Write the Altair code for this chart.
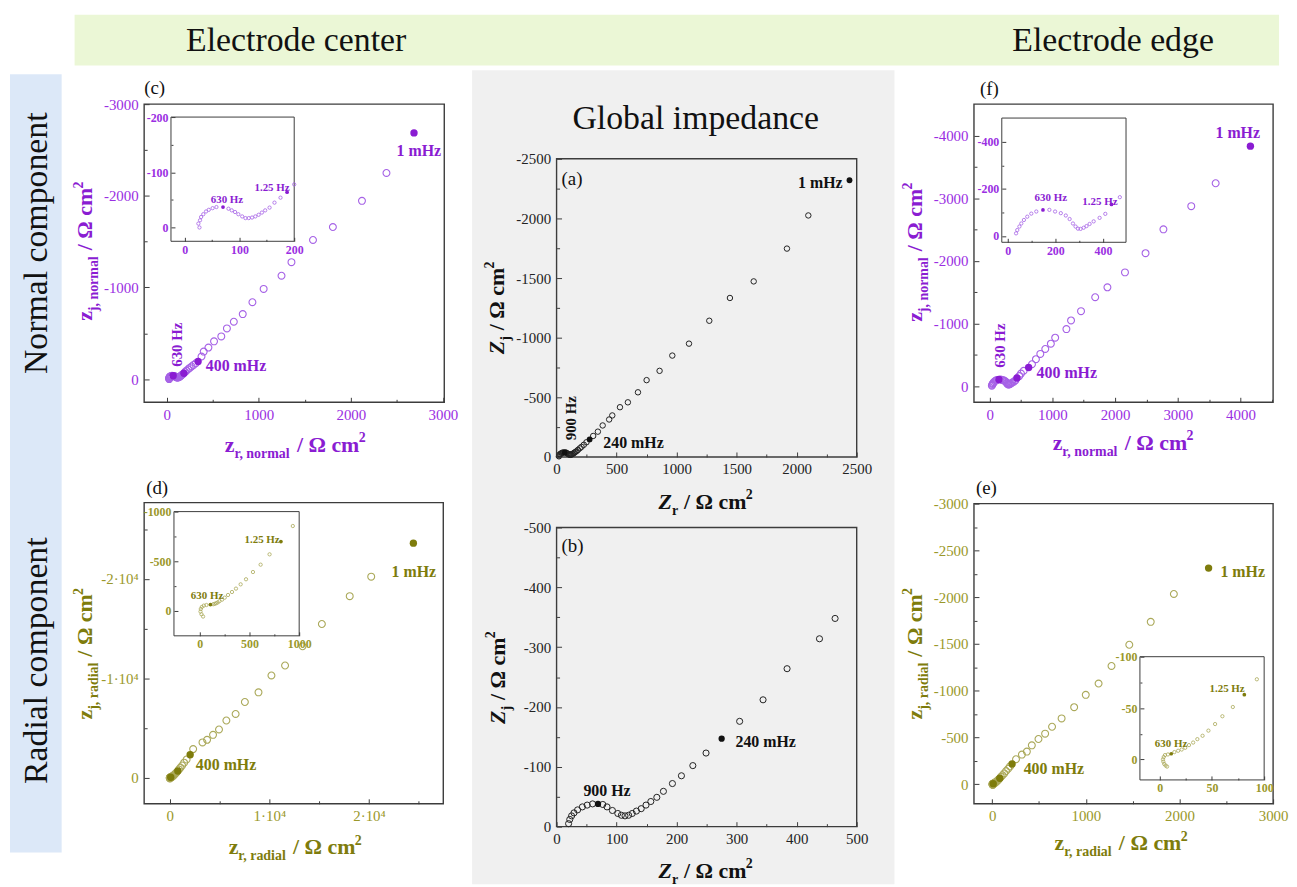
import altair as alt
import pandas as pd

# ---------------- data ----------------
# Global impedance (panels a, b)
g_zr = [20, 22, 25, 29, 35, 43, 51, 60, 77, 84, 93, 102, 108, 114, 120, 126, 133, 141, 149, 157, 167, 178, 193, 208,
        227, 249, 305, 344, 384, 438, 464, 528, 594, 678, 750, 858, 964, 1103, 1272, 1444, 1642, 1919, 2097]
g_zj = [-5, -12, -18, -23, -28, -33, -36, -38, -37, -33, -27, -22, -19, -18, -19, -22, -26, -30, -36, -42, -49, -59,
        -72, -85, -102, -123, -176, -212, -264, -314, -348, -417, -458, -542, -644, -722, -850, -950, -1142, -1333,
        -1472, -1747, -2025]
g_sp_zr = [69, 275, 2440]
g_sp_zj = [-38, -147, -2320]

# Electrode center, normal component (panel c)
c_zr = [27, 25, 28, 30, 34, 39, 44, 51, 58, 80, 86, 92, 98, 105, 111, 117, 123, 129, 135, 141, 147, 155, 164, 175, 200,
        215, 232, 250, 270, 292, 316, 378, 402, 453, 514, 593, 654, 729, 826, 931, 1053, 1247, 1355, 1589, 1805, 2121,
        2387]
c_zj = [0, -7, -13, -19, -24, -29, -32, -35, -37, -34, -31, -28, -24, -20, -17, -17, -18, -20, -23, -27, -31, -36, -45,
        -54, -78, -92, -107, -122, -138, -155, -173, -246, -300, -344, -412, -466, -553, -626, -709, -839, -984, -1128,
        -1276, -1518, -1659, -1945, -2249]
c_sp_zr = [70, 187, 341, 2686]
c_sp_zj = [-37, -64, -192, -2686]

# Electrode center, radial component (panel d)
d_zr = [33, 17, 7, 10, 20, 40, 67, 135, 150, 165, 180, 197, 224, 251, 284, 324, 364, 411, 465, 535, 612, 702, 936,
        1080, 1250, 1450, 1700, 2355, 3293, 3752, 4351, 4950, 5689, 6617, 7545, 8912, 10210, 11577, 13333, 15270,
        18064, 20220]
d_zj = [56, 33, 6, -20, -40, -54, -60, -68, -72, -78, -86, -98, -114, -134, -161, -191, -225, -268, -319, -392, -466,
        -570, -855, -1030, -1250, -1530, -1850, -2900, -3570, -3830, -4330, -4870, -5770, -6430, -7630, -8600, -10300,
        -11300, -13230, -15470, -18270, -20230]
d_sp_zr = [107, 816, 2056, 24450]
d_sp_zj = [-64, -698, -2330, -23600]

# Electrode edge, normal component (panel f)
f_zr = [35, 40, 49, 57, 68, 82, 99, 120, 175, 199, 223, 244, 260, 274, 285, 295, 306, 319, 331, 344, 361, 386, 410,
        471, 500, 543, 675, 738, 808, 887, 976, 1045, 1224, 1298, 1457, 1683, 1878, 2158, 2486, 2771, 3215, 3604]
f_zj = [-11, -25, -40, -53, -68, -82, -95, -104, -111, -104, -97, -87, -72, -53, -40, -31, -30, -35, -42, -51, -62,
        -77, -94, -165, -205, -249, -354, -434, -518, -597, -681, -777, -914, -1052, -1200, -1422, -1580, -1818, -2124,
        -2504, -2874, -3239]
f_sp_zr = [148, 436, 622, 4158]
f_sp_zj = [-111, -134, -301, -3830]

# Electrode edge, radial component (panel e)
e_zr = [7, 5.6, 4.3, 3.4, 3.1, 3.8, 5, 7.8, 14, 17.6, 21, 24.4, 28, 32, 36, 41, 46.6, 53, 60, 70, 93, 110, 128, 148,
        170, 190, 254, 317, 370, 423, 494, 565, 639, 741, 875, 999, 1136, 1274, 1464, 1693, 1940]
e_zj = [7, 6, 4.5, 2.2, 0, -2.3, -4.2, -4.8, -7.1, -8.4, -9.6, -11.3, -13.9, -16.4, -19.7, -23, -28, -34.4, -42, -51,
        -78, -95, -115, -140, -165, -190, -266, -316, -348, -415, -483, -540, -614, -703, -823, -955, -1076, -1264,
        -1491, -1736, -2034]
e_sp_zr = [11, 81, 212, 2311]
e_sp_zj = [-5.5, -63, -216, -2311]

# ---------------- layout / style ----------------
W, H = 1289, 879
OFF = 8
SERIF = "Liberation Serif"

PURPLE_TXT = "#9A2EE2"
PURPLE_PT = "#A662E6"
PURPLE_FILL = "#8A1CD2"
OLIVE_TXT = "#9A982A"
OLIVE_PT = "#ABA95A"
OLIVE_FILL = "#7E7C0C"
BLACK = "#111111"
FRAME = "#3c3c3c"

STD = "datum.value < 0 ? '-' + (-datum.value) : '' + datum.value"
SCI = "datum.value == 0 ? '0' : (datum.value < 0 ? '-' : '') + (abs(datum.value) / 10000) + '\u00b710\u2074'"


def txt(x, y, s, size, color, weight="normal", style="normal", angle=0, align="left", baseline="middle"):
    return alt.Chart(pd.DataFrame({"t": [s]})).mark_text(
        font=SERIF, fontSize=size, fontWeight=weight, fontStyle=style, angle=angle,
        align=align, baseline=baseline, color=color
    ).encode(x=alt.value(x - OFF), y=alt.value(y - OFF), text="t:N")


def bg(x0, y0, x1, y1, color):
    return alt.Chart(pd.DataFrame({"a": [0]})).mark_rect(color=color).encode(
        x=alt.value(x0 - OFF), x2=alt.value(x1 - OFF), y=alt.value(y0 - OFF), y2=alt.value(y1 - OFF))


TB = {' ': 250, '/': 278, ',': 250, 'z': 444, 'r': 444, 'j': 333, 'n': 556, 'o': 500, 'm': 833, 'a': 500,
      'l': 278, 'd': 556, 'i': 278, 'c': 444, 'Z': 667, '2': 500, '\u03a9': 770}


def twidth(s, size, italic=False):
    w = 0
    for ch in s:
        if italic and ch == 'Z':
            w += 611
        else:
            w += TB.get(ch, 500)
    return w * size / 1000.0


def title(cx, cy, pieces, color, rotated=False):
    # pieces: (text, size, shift, italic); an entry with empty text is a gap of `size` px
    total = 0
    for t, s, sh, it in pieces:
        total += twidth(t, s, it) if t else s
    u = -total / 2.0
    out = []
    for t, s, sh, it in pieces:
        if not t:
            u += s
            continue
        if rotated:
            out.append(txt(cx + sh, cy - u, t, s, color, weight="bold", style="italic" if it else "normal",
                           angle=270, align="left", baseline="alphabetic"))
        else:
            out.append(txt(cx + u, cy + sh, t, s, color, weight="bold", style="italic" if it else "normal",
                           align="left", baseline="alphabetic"))
        u += twidth(t, s, it)
    return out


def side_title(sub, main="z", italic=False):
    return [(main, 22, 0, italic), (sub, 14, 6, False), ("", 6, 0, False), ("/ \u03a9 cm", 22, 0, False),
            ("2", 14, -10, False)]


def make_panel(zr, zj, szr, szj, frame, xdom, ydom, xmaj, xmin, ymaj, ymin, pt_color, fill_color, lab_color,
               psize, pstroke, fsize, lsize, lweight, xexpr=STD, yexpr=STD, inset=False, tmaj=5, tmin=3,
               xpad=5, ypad=6, frame_w=1.4):
    L, T, R, B = [v - OFF for v in frame]

    def xs():
        return alt.Scale(domain=xdom, range=[L, R], nice=False, zero=False)

    def ys():
        return alt.Scale(domain=ydom, range=[B, T], nice=False, zero=False)

    lox, hix = min(xdom), max(xdom)
    loy, hiy = min(ydom), max(ydom)
    df = pd.DataFrame({"zr": zr, "zj": zj})
    df = df[(df.zr >= lox) & (df.zr <= hix) & (df.zj >= loy) & (df.zj <= hiy)]
    sdf = pd.DataFrame({"zr": szr, "zj": szj})
    sdf = sdf[(sdf.zr >= lox) & (sdf.zr <= hix) & (sdf.zj >= loy) & (sdf.zj <= hiy)]
    fr = pd.DataFrame({"x0": [xdom[0]], "x1": [xdom[1]], "y0": [ydom[0]], "y1": [ydom[1]]})

    def tax_x(vals, size):
        return alt.Axis(orient="top", offset=-B, values=vals, labels=False, domain=False, grid=False, ticks=True,
                        tickSize=size, tickColor=FRAME, tickWidth=1, title=None, zindex=1)

    def tax_y(vals, size):
        return alt.Axis(orient="right", offset=L - W, values=vals, labels=False, domain=False, grid=False,
                        ticks=True, tickSize=size, tickColor=FRAME, tickWidth=1, title=None, zindex=1)

    frame_layer = alt.Chart(fr).mark_rect(
        fill="white", fillOpacity=1 if inset else 0, stroke=FRAME, strokeWidth=frame_w
    ).encode(
        x=alt.X("x0:Q", scale=xs(), axis=tax_x(xmaj, tmaj)),
        x2="x1:Q",
        y=alt.Y("y0:Q", scale=ys(), axis=tax_y(ymaj, tmaj)),
        y2="y1:Q",
    )
    common = dict(labels=True, ticks=False, tickSize=0, domain=False, grid=False, title=None, labelFont=SERIF,
                  labelFontSize=lsize, labelFontWeight=lweight, labelColor=lab_color, labelFlush=False,
                  labelOverlap=False, labelBound=False, zindex=1)
    pts = alt.Chart(df).mark_point(
        shape="circle", filled=False, size=psize, strokeWidth=pstroke, color=pt_color, opacity=1
    ).encode(
        x=alt.X("zr:Q", scale=xs(), axis=alt.Axis(orient="bottom", offset=B - H, values=xmaj, labelExpr=xexpr,
                                                     labelPadding=xpad, **common)),
        y=alt.Y("zj:Q", scale=ys(), axis=alt.Axis(orient="left", offset=-L, values=ymaj, labelExpr=yexpr,
                                                     labelPadding=ypad, **common)),
    )
    sp = alt.Chart(sdf).mark_circle(size=fsize, color=fill_color, opacity=1).encode(
        x=alt.X("zr:Q", scale=xs(), axis=tax_x(xmin, tmin)),
        y=alt.Y("zj:Q", scale=ys(), axis=tax_y(ymin, tmin)),
    )
    return [frame_layer, pts, sp]


layers = []

# backgrounds
layers.append(bg(75, 12, 1287, 63, "#EBF7D6"))
layers.append(bg(10, 72, 62, 855, "#DCE8F8"))
layers.append(bg(475, 68, 900, 887, "#F0F0F0"))

layers.append(txt(298, 39, "Electrode center", 34, BLACK, align="center"))
layers.append(txt(1120, 39, "Electrode edge", 34, BLACK, align="center"))
layers.append(txt(700, 117, "Global impedance", 34, BLACK, align="center"))
layers.append(txt(37, 242, "Normal component", 34, BLACK, angle=270, align="center"))
layers.append(txt(37, 662, "Radial component", 34, BLACK, angle=270, align="center"))

# ---- panel (c) ----
layers += make_panel(c_zr, c_zj, c_sp_zr, c_sp_zj, (145, 102, 447, 402), [-245, 3015], [253, -3000],
                     [0, 1000, 2000, 3000], [500, 1500, 2500], [0, -1000, -2000, -3000], [-500, -1500, -2500],
                     PURPLE_PT, PURPLE_FILL, PURPLE_TXT, 48, 1.1, 55, 15, "normal")
layers += make_panel(c_zr, c_zj, c_sp_zr, c_sp_zj, (172, 115, 296, 240), [-25, 200], [25, -200],
                     [0, 100, 200], [50, 150], [0, -100, -200], [-50, -150],
                     PURPLE_PT, PURPLE_FILL, PURPLE_TXT, 11, 0.8, 14, 12, "bold", inset=True, tmaj=4, tmin=2,
                     xpad=3, ypad=3, frame_w=1)
layers.append(txt(145, 86, "(c)", 19, BLACK))
layers.append(txt(399, 149, "1 mHz", 16, PURPLE_FILL, weight="bold"))
layers.append(txt(207, 366, "400 mHz", 16, PURPLE_FILL, weight="bold"))
layers.append(txt(178, 344, "630 Hz", 15, PURPLE_FILL, weight="bold", angle=270, align="center"))
layers.append(txt(212, 198, "630 Hz", 11, PURPLE_FILL, weight="bold"))
layers.append(txt(256, 186, "1.25 Hz", 11, PURPLE_FILL, weight="bold"))
layers += title(297, 452, side_title("r, normal"), PURPLE_FILL)
layers += title(93, 250, side_title("j, normal"), PURPLE_FILL, rotated=True)

# ---- panel (d) ----
layers += make_panel(d_zr, d_zj, d_sp_zr, d_sp_zj, (145, 503, 446, 806), [-2560, 27450], [2600, -27670],
                     [0, 10000, 20000], [5000, 15000, 25000], [0, -10000, -20000], [-5000, -15000, -25000],
                     OLIVE_PT, OLIVE_FILL, OLIVE_TXT, 48, 1.1, 55, 15, "normal", xexpr=SCI, yexpr=SCI)
layers += make_panel(d_zr, d_zj, d_sp_zr, d_sp_zj, (175, 512, 301, 637), [-260, 1000], [250, -1000],
                     [0, 500, 1000], [250, 750], [0, -500, -1000], [-250, -750],
                     OLIVE_PT, OLIVE_FILL, OLIVE_TXT, 11, 0.8, 14, 12, "bold", inset=True, tmaj=4, tmin=2,
                     xpad=3, ypad=3, frame_w=1)
layers.append(txt(147, 488, "(d)", 19, BLACK))
layers.append(txt(394, 573, "1 mHz", 16, OLIVE_FILL, weight="bold"))
layers.append(txt(197, 767, "400 mHz", 16, OLIVE_FILL, weight="bold"))
layers.append(txt(192, 597, "630 Hz", 11, OLIVE_FILL, weight="bold"))
layers.append(txt(246, 541, "1.25 Hz", 11, OLIVE_FILL, weight="bold"))
layers += title(297, 857, side_title("r, radial"), OLIVE_FILL)
layers += title(93, 655, side_title("j, radial"), OLIVE_FILL, rotated=True)

# ---- panel (a) ----
layers += make_panel(g_zr, g_zj, g_sp_zr, g_sp_zj, (560, 157, 862, 457), [0, 2500], [0, -2500],
                     [0, 500, 1000, 1500, 2000, 2500], [250, 750, 1250, 1750, 2250],
                     [0, -500, -1000, -1500, -2000, -2500], [-250, -750, -1250, -1750, -2250],
                     "#222222", BLACK, "#222222", 30, 1, 34, 15, "normal")
layers.append(txt(565, 177, "(a)", 19, BLACK))
layers.append(txt(803, 181, "1 mHz", 16, BLACK, weight="bold"))
layers.append(txt(607, 443, "240 mHz", 16, BLACK, weight="bold"))
layers.append(txt(575, 418, "900 Hz", 15, BLACK, weight="bold", angle=270, align="center"))
layers += title(710, 509, side_title("r", "Z", True), BLACK)
layers += title(507, 307, side_title("j", "Z", True), BLACK, rotated=True)

# ---- panel (b) ----
layers += make_panel(g_zr, g_zj, g_sp_zr, g_sp_zj, (560, 528, 862, 829), [0, 500], [0, -500],
                     [0, 100, 200, 300, 400, 500], [50, 150, 250, 350, 450],
                     [0, -100, -200, -300, -400, -500], [-50, -150, -250, -350, -450],
                     "#222222", BLACK, "#222222", 38, 1, 40, 15, "normal")
layers.append(txt(565, 547, "(b)", 19, BLACK))
layers.append(txt(587, 793, "900 Hz", 16, BLACK, weight="bold"))
layers.append(txt(740, 744, "240 mHz", 16, BLACK, weight="bold"))
layers += title(710, 881, side_title("r", "Z", True), BLACK)
layers += title(508, 679, side_title("j", "Z", True), BLACK, rotated=True)

# ---- panel (f) ----
layers += make_panel(f_zr, f_zj, f_sp_zr, f_sp_zj, (980, 102, 1281, 402), [-250, 4520], [253, -4500],
                     [0, 1000, 2000, 3000, 4000], [500, 1500, 2500, 3500, 4500],
                     [0, -1000, -2000, -3000, -4000], [-500, -1500, -2500, -3500],
                     PURPLE_PT, PURPLE_FILL, PURPLE_TXT, 48, 1.1, 55, 15, "normal")
layers += make_panel(f_zr, f_zj, f_sp_zr, f_sp_zj, (1008, 116, 1133, 241), [-25, 497], [27, -502],
                     [0, 200, 400], [100, 300], [0, -200, -400], [-100, -300],
                     PURPLE_PT, PURPLE_FILL, PURPLE_TXT, 11, 0.8, 14, 12, "bold", inset=True, tmaj=4, tmin=2,
                     xpad=3, ypad=3, frame_w=1)
layers.append(txt(986, 87, "(f)", 19, BLACK))
layers.append(txt(1223, 131, "1 mHz", 16, PURPLE_FILL, weight="bold"))
layers.append(txt(1043, 373, "400 mHz", 16, PURPLE_FILL, weight="bold"))
layers.append(txt(1006, 345, "630 Hz", 15, PURPLE_FILL, weight="bold", angle=270, align="center"))
layers.append(txt(1041, 196, "630 Hz", 11, PURPLE_FILL, weight="bold"))
layers.append(txt(1089, 200, "1.25 Hz", 11, PURPLE_FILL, weight="bold"))
layers += title(1130, 450, side_title("r, normal"), PURPLE_FILL)
layers += title(928, 251, side_title("j, normal"), PURPLE_FILL, rotated=True)

# ---- panel (e) ----
layers += make_panel(e_zr, e_zj, e_sp_zr, e_sp_zj, (980, 504, 1281, 806), [-195, 3000], [210, -3000],
                     [0, 1000, 2000, 3000], [500, 1500, 2500],
                     [0, -500, -1000, -1500, -2000, -2500, -3000],
                     [-250, -750, -1250, -1750, -2250, -2750],
                     OLIVE_PT, OLIVE_FILL, OLIVE_TXT, 48, 1.1, 55, 15, "normal")
layers += make_panel(e_zr, e_zj, e_sp_zr, e_sp_zj, (1147, 658, 1272, 782), [-19, 100], [20, -100],
                     [0, 50, 100], [25, 75], [0, -50, -100], [-25, -75],
                     OLIVE_PT, OLIVE_FILL, OLIVE_TXT, 11, 0.8, 14, 12, "bold", inset=True, tmaj=4, tmin=2,
                     xpad=3, ypad=3, frame_w=1)
layers.append(txt(982, 488, "(e)", 19, BLACK))
layers.append(txt(1228, 573, "1 mHz", 16, OLIVE_FILL, weight="bold"))
layers.append(txt(1030, 771, "400 mHz", 16, OLIVE_FILL, weight="bold"))
layers.append(txt(1162, 746, "630 Hz", 11, OLIVE_FILL, weight="bold"))
layers.append(txt(1217, 691, "1.25 Hz", 11, OLIVE_FILL, weight="bold"))
layers += title(1128, 853, side_title("r, radial"), OLIVE_FILL)
layers += title(928, 655, side_title("j, radial"), OLIVE_FILL, rotated=True)

chart = alt.layer(*layers).resolve_scale(
    x="independent", y="independent"
).resolve_axis(
    x="independent", y="independent"
).properties(
    width=W, height=H, padding=0, autosize=alt.AutoSizeParams(type="none")
).configure_view(stroke=None)

chart.save("out.html", embed_options={"renderer": "svg", "actions": False})
